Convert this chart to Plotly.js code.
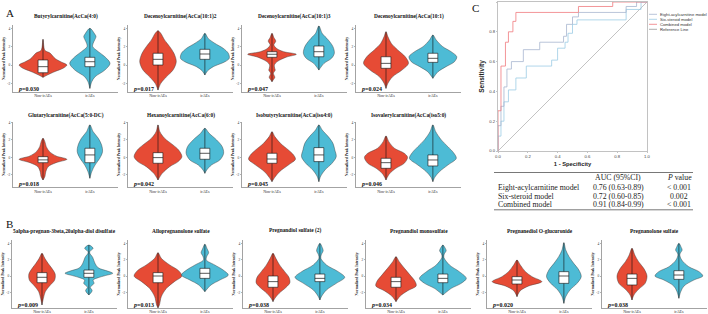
<!DOCTYPE html>
<html><head><meta charset="utf-8">
<script src="https://cdn.plot.ly/plotly-3.0.1.min.js"></script>
<style>html,body{margin:0;padding:0;background:#fff;}#chart{width:708px;height:314px;}</style>
</head><body><div id="chart"></div>
<script>
// ---------------- DATA ----------------
const panelTitles = [
  'Butyrylcarnitine(AcCa(4:0)', 'Decenoylcarnitine(AcCa(10:1)2', 'Decenoylcarnitine(AcCa(10:1)3', 'Decenoylcarnitine(AcCa(10:1)',
  'Glutarylcarnitine(AcCa(5:0-DC)', 'Hexanoylcarnitine(AcCa(6:0)', 'Isobutyrylcarnitine(AcCa(iso4:0)', 'Isovalerylcarnitine(AcCa(iso5:0)',
  '5alpha-pregnan-3beta,20alpha-diol disulfate', 'Allopregnanolone sulfate', 'Pregnandiol sulfate (2)',
  'Pregnandiol monosulfate', 'Pregnanediol O-glucuronide', 'Pregnanolone sulfate'
];
const pValues = ['0.030','0.017','0.047','0.024','0.018','0.042','0.045','0.046',
                 '0.009','0.013','0.038','0.034','0.020','0.038'];
const groupLabels = ['Non-irAEs', 'irAEs'];
const yTickVals = [-2, 0, 2, 4];
const yTickText = ['-2', '0', '2', '4'];

// violin outlines: [value, half-width] from top to bottom
const redProfiles = [
  [[2.8,0],[1.6,0.04],[1.3,0.15],[0.7,0.26],[0.35,0.38],[0,0.51],[-0.35,0.43],[-0.7,0.26],[-1.1,0.09],[-1.35,0]],
  [[3.74,0],[3.45,0.06],[2.73,0.14],[2.0,0.25],[1.28,0.34],[0.36,0.39],[-0.55,0.32],[-1.28,0.18],[-2.0,0.06],[-2.73,0]],
  [[3.45,0],[3.0,0.04],[2.6,0.08],[2.2,0.04],[1.8,0.1],[1.45,0.25],[1.17,0.52],[0.85,0.3],[0.4,0.12],[0.0,0.05],[-0.4,0.06],[-0.55,0.07],[-0.9,0.03],[-1.34,0.06],[-1.6,0.03],[-1.82,0]],
  [[3.63,0],[3.1,0.04],[2.37,0.11],[1.64,0.25],[0.9,0.41],[0.18,0.48],[-0.55,0.34],[-1.28,0.14],[-2.0,0.04],[-2.55,0]],
  [[2.19,0],[1.8,0.04],[1.22,0.07],[0.65,0.14],[0.15,0.28],[-0.23,0.51],[-0.62,0.28],[-1.08,0.11],[-1.66,0.06],[-2.24,0.04],[-2.62,0]],
  [[3.73,0],[2.95,0.04],[2.19,0.14],[1.42,0.32],[0.84,0.44],[0.07,0.51],[-0.5,0.43],[-1.08,0.25],[-1.85,0.09],[-2.62,0]],
  [[2.95,0],[2.38,0.06],[1.61,0.18],[0.84,0.35],[0.27,0.46],[-0.23,0.5],[-0.89,0.35],[-1.66,0.16],[-2.31,0.06],[-2.81,0]],
  [[2.46,0],[1.8,0.06],[1.04,0.18],[0.46,0.39],[0,0.46],[-0.69,0.39],[-1.27,0.21],[-1.93,0.07],[-2.62,0]],
  [[2.78,0],[2.17,0.06],[1.55,0.13],[0.94,0.21],[0.24,0.28],[-0.49,0.27],[-1.22,0.16],[-1.92,0.07],[-2.73,0.03],[-3.55,0]],
  [[2.86,0],[2.17,0.07],[1.35,0.25],[0.65,0.44],[0,0.51],[-0.69,0.35],[-1.51,0.18],[-2.53,0.07],[-3.55,0.03],[-3.9,0]],
  [[2.78,0],[2.17,0.06],[1.35,0.14],[0.53,0.25],[-0.16,0.34],[-0.82,0.36],[-1.38,0.28],[-2.12,0.13],[-2.73,0.04],[-3.14,0]],
  [[2.37,0],[1.75,0.07],[0.94,0.18],[0.12,0.3],[-0.69,0.41],[-1.22,0.43],[-1.8,0.25],[-2.45,0.09],[-3.14,0]],
  [[1.96,0],[1.35,0.07],[0.53,0.18],[-0.08,0.32],[-0.69,0.53],[-1.22,0.25],[-1.8,0.07],[-2.53,0]],
  [[3.39,0],[2.57,0.06],[1.75,0.14],[0.94,0.25],[0,0.32],[-0.9,0.28],[-1.63,0.14],[-2.33,0.04],[-2.94,0]]
];
const blueProfiles = [
  [[4.0,0],[3.4,0.1],[3.1,0.13],[2.7,0.1],[2.37,0.07],[2.0,0.06],[1.45,0.18],[0.9,0.32],[0.18,0.43],[-0.55,0.32],[-1.28,0.11],[-1.82,0.04],[-2.55,0]],
  [[3.45,0],[2.9,0.07],[2.37,0.21],[1.82,0.39],[1.28,0.5],[0.73,0.52],[0.36,0.43],[-0.18,0.18],[-0.62,0.06],[-1.09,0]],
  [[4.25,0],[3.45,0.07],[2.73,0.2],[2.0,0.3],[1.28,0.33],[0.73,0.27],[0.18,0.11],[-0.55,0]],
  [[3.27,0],[2.73,0.07],[2.0,0.21],[1.45,0.39],[0.9,0.51],[0.36,0.46],[-0.18,0.28],[-0.73,0.11],[-1.45,0]],
  [[3.73,0],[2.95,0.07],[2.19,0.18],[1.42,0.25],[0.65,0.27],[-0.12,0.21],[-0.89,0.11],[-1.66,0.04],[-2.42,0]],
  [[3.34,0],[2.77,0.09],[2.0,0.25],[1.22,0.37],[0.46,0.4],[-0.31,0.32],[-0.89,0.14],[-1.46,0.04],[-1.85,0]],
  [[3.73,0],[3.15,0.07],[2.38,0.2],[1.61,0.3],[0.84,0.34],[0.07,0.37],[-0.69,0.28],[-1.46,0.13],[-2.16,0.04],[-2.81,0]],
  [[3.73,0],[2.95,0.06],[2.0,0.18],[1.22,0.32],[0.53,0.44],[-0.12,0.5],[-0.89,0.32],[-1.66,0.14],[-2.31,0.04],[-2.81,0]],
  [[3.79,0],[3.39,0.09],[3.0,0.02],[2.78,0.02],[2.3,0.08],[1.55,0.13],[1.0,0.2],[0.6,0.4],[0.33,0.51],[0.05,0.35],[-0.2,0.2],[-0.49,0.09],[-0.9,0.11],[-1.38,0.03],[-1.8,0.07],[-2.33,0]],
  [[3.9,0],[3.3,0.05],[2.86,0.08],[2.4,0.04],[1.96,0.03],[1.35,0.21],[0.73,0.39],[0.12,0.5],[-0.49,0.32],[-1.1,0.13],[-1.92,0]],
  [[4.0,0],[3.5,0.05],[3.1,0.07],[2.6,0.03],[2.17,0.02],[1.35,0.14],[0.53,0.39],[-0.16,0.53],[-0.9,0.35],[-1.71,0.14],[-2.45,0.04],[-2.94,0]],
  [[3.79,0],[3.4,0.05],[3.1,0.07],[2.7,0.03],[2.29,0.02],[1.35,0.14],[0.53,0.35],[-0.29,0.5],[-0.9,0.39],[-1.51,0.18],[-2.33,0]],
  [[4.08,0],[3.18,0.04],[2.37,0.11],[1.55,0.21],[0.73,0.32],[-0.08,0.37],[-0.9,0.28],[-1.71,0.13],[-2.53,0.04],[-3.35,0]],
  [[4.0,0],[3.5,0.05],[3.18,0.07],[2.8,0.03],[2.57,0.02],[1.96,0.06],[1.14,0.21],[0.53,0.43],[0,0.51],[-0.49,0.32],[-1.22,0.11],[-1.92,0.04],[-2.73,0]]
];
// box statistics: [q1, median, q3]
const redBoxes = [[-0.84,-0.18,0.55],[0,0.62,1.28],[0.84,1.17,1.45],[-0.36,0.18,0.9],[-0.62,-0.3,0.07],[-0.69,-0.04,0.53],[-0.69,-0.2,0.46],
  [-1.27,-0.62,-0.12],[-0.82,-0.16,0.41],[-0.82,0,0.41],[-1.38,-0.69,0],[-1.38,-0.69,-0.16],[-0.98,-0.49,-0.08],[-1.1,-0.29,0.24]];
const blueBoxes = [[-0.18,0.36,0.84],[0.62,1.2,1.71],[0.9,1.45,2.07],[0.29,0.73,1.28],[-0.62,0.27,1.04],[-0.23,0.46,1.04],[-0.5,0.27,1.11],
  [-1.0,-0.31,0.27],[-0.16,0.33,0.73],[-0.29,0.33,0.94],[-0.69,-0.29,0.24],[-0.82,-0.29,0.24],[-0.9,0,0.53],[-0.41,0.12,0.65]];

// ROC curves (1 - specificity, sensitivity)
const rocNames = ['Eight-acylcarnitine model', 'Six-steroid model', 'Combined model', 'Reference Line'];
const fprEight = [0,0,0.02,0.02,0.04,0.04,0.06,0.06,0.09,0.09,0.17,0.17,0.28,0.28,0.44,0.44,0.46,0.46,0.5,0.5,0.54,0.54,0.86,0.86,0.93,0.93,1];
const tprEight = [0,0.17,0.17,0.3,0.3,0.43,0.43,0.55,0.55,0.6,0.6,0.68,0.68,0.73,0.73,0.77,0.77,0.85,0.85,0.9,0.9,0.93,0.93,0.97,0.97,1,1];
const fprSix = [0,0,0.02,0.02,0.04,0.04,0.07,0.07,0.12,0.12,0.19,0.19,0.36,0.36,0.4,0.4,0.45,0.45,0.47,0.47,0.5,0.5,0.53,0.53,0.86,0.86,0.96,0.96,1];
const tprSix = [0,0.1,0.1,0.2,0.2,0.33,0.33,0.41,0.41,0.49,0.49,0.57,0.57,0.61,0.61,0.69,0.69,0.73,0.73,0.79,0.79,0.85,0.85,0.88,0.88,0.95,0.95,1,1];
const fprComb = [0,0,0.02,0.02,0.05,0.05,0.07,0.07,0.1,0.1,0.12,0.12,0.54,0.54,0.77,0.77,1];
const tprComb = [0,0.27,0.27,0.57,0.57,0.73,0.73,0.8,0.8,0.87,0.87,0.93,0.93,0.97,0.97,1,1];
const fprRef = [0, 1];
const tprRef = [0, 1];

const tableHeader = ['AUC (95%CI)', '<i>P</i> value'];
const tableModels = ['Eight-acylcarnitine model', 'Six-steroid model', 'Combined model'];
const tableAUC = ['0.76 (0.63-0.89)', '0.72 (0.60-0.85)', '0.91 (0.84-0.99)'];
const tableP = ['< 0.001', '0.002', '< 0.001'];

// ---------------- LAYOUT ----------------
const W = 708, H = 314;
const RED = '#E64B35', BLUE = '#4DBBD5';
const SERIF = '"Liberation Serif","Times New Roman",serif';
const SANS = '"Liberation Sans",Arial,sans-serif';
const rowA1 = {top: 25, bottom: 92, range: [-2.94, 4.36], titleY: 17};
const rowA2 = {top: 121.7, bottom: 187.3, range: [-3.46, 4.1], titleY: 115};
const rowB  = {top: 240, bottom: 308, range: [-3.92, 4.41], titleY: 231};
const panels = [];
[13,128,242,356].forEach(x => panels.push({x, row: rowA1}));
[13,128,242,356].forEach(x => panels.push({x, row: rowA2}));
[12,128,243,366,487,602].forEach(x => panels.push({x, row: rowB}));
const PW = 105, XR = [-0.64, 1.6], BW = 0.105;
const px = v => v / W, py = v => 1 - v / H;

const traces = [];
const layout = {
  width: W, height: H, margin: {l: 0, r: 0, t: 0, b: 0},
  paper_bgcolor: '#fff', plot_bgcolor: 'rgba(0,0,0,0)', showlegend: false,
  font: {family: SERIF, color: '#222'}, annotations: [], shapes: []
};

function outline(profile, c) {
  const xs = [], ys = [];
  profile.forEach(([v, w]) => { xs.push(c + w); ys.push(v); });
  for (let i = profile.length - 1; i >= 0; i--) { xs.push(c - profile[i][1]); ys.push(profile[i][0]); }
  return {xs, ys};
}

panels.forEach((p, i) => {
  const k = i + 1, xa = 'x' + (k === 1 ? '' : k), ya = 'y' + (k === 1 ? '' : k);
  const xk = 'xaxis' + (k === 1 ? '' : k), yk = 'yaxis' + (k === 1 ? '' : k);
  layout[xk] = {
    domain: [px(p.x), px(p.x + PW)], anchor: ya, range: XR, type: 'linear',
    tickvals: [0, 1], ticktext: groupLabels, tickfont: {size: 4, family: SERIF, color: '#333'},
    ticks: '', showline: true, linecolor: '#666', linewidth: 0.6, showgrid: false, zeroline: false, fixedrange: true
  };
  layout[yk] = {
    domain: [py(p.row.bottom), py(p.row.top)], anchor: xa, range: p.row.range,
    tickvals: yTickVals, ticktext: yTickText, tickfont: {size: 3.5, family: SERIF, color: '#444'},
    ticks: 'outside', ticklen: 1.5, tickwidth: 0.5, tickcolor: '#666',
    showline: true, linecolor: '#666', linewidth: 0.6, showgrid: false, zeroline: false, fixedrange: true,
    title: {text: '<b>Normalized Peak Intensity</b>', font: {size: 3.8, family: SERIF, color: '#222'}, standoff: 1}
  };
  [[redProfiles[i], redBoxes[i], 0, RED], [blueProfiles[i], blueBoxes[i], 1, BLUE]].forEach(([prof, box, c, col]) => {
    const o = outline(prof, c);
    traces.push({type: 'scatter', mode: 'lines', x: o.xs, y: o.ys, fill: 'toself', fillcolor: col,
      line: {color: '#3a3a3a', width: 0.45, shape: 'spline', smoothing: 0.9}, xaxis: xa, yaxis: ya, hoverinfo: 'skip'});
    const vals = prof.map(d => d[0]);
    // whisker through the violin
    traces.push({type: 'scatter', mode: 'lines', x: [c, c], y: [Math.min(...vals), Math.max(...vals)],
      line: {color: '#111', width: 0.6}, xaxis: xa, yaxis: ya, hoverinfo: 'skip'});
    // inner box
    traces.push({type: 'scatter', mode: 'lines', x: [c - BW, c + BW, c + BW, c - BW, c - BW], y: [box[0], box[0], box[2], box[2], box[0]],
      fill: 'toself', fillcolor: '#ffffff', line: {color: '#111', width: 0.6}, xaxis: xa, yaxis: ya, hoverinfo: 'skip'});
    // median
    traces.push({type: 'scatter', mode: 'lines', x: [c - BW, c + BW], y: [box[1], box[1]],
      line: {color: '#111', width: 0.7}, xaxis: xa, yaxis: ya, hoverinfo: 'skip'});
  });
  layout.annotations.push({xref: 'paper', yref: 'paper', x: px(p.x + PW / 2), y: py(p.row.titleY),
    text: '<b>' + panelTitles[i] + '</b>', showarrow: false, xanchor: 'center', yanchor: 'middle',
    font: {size: 5.4, family: SERIF, color: '#111'}});
  layout.annotations.push({xref: 'paper', yref: 'paper', x: px(p.x + 2.5), y: py(p.row.bottom - 3.5),
    text: '<b><i>p</i>=' + pValues[i] + '</b>', showarrow: false, xanchor: 'left', yanchor: 'middle',
    font: {size: 6, family: SERIF, color: '#111'}});
});

// panel letters
[['A', 4, 13], ['B', 4, 224], ['C', 470, 8]].forEach(([t, x, y]) => layout.annotations.push({
  xref: 'paper', yref: 'paper', x: px(x), y: py(y), text: t, showarrow: false, xanchor: 'left', yanchor: 'middle',
  font: {size: 11, family: SERIF, color: '#111'}}));

// ROC panel
const R = 15, rocColors = ['#a7b5cf', '#9ccbe4', '#f07a7e', '#9a9a9a'];
layout['xaxis' + R] = {domain: [px(498), px(647)], anchor: 'y' + R, range: [0, 1],
  tickvals: [0, 0.2, 0.4, 0.6, 0.8, 1], ticktext: ['0.0', '0.2', '0.4', '0.6', '0.8', '1.0'],
  tickfont: {size: 4.2, family: SANS, color: '#444'}, ticks: 'outside', ticklen: 1.5, tickwidth: 0.5, tickcolor: '#888',
  showline: true, mirror: true, linecolor: '#999', linewidth: 0.6, showgrid: false, zeroline: false, fixedrange: true,
  title: {text: '<b>1 - Specificity</b>', font: {size: 5.8, family: SANS, color: '#222'}, standoff: 3}};
layout['yaxis' + R] = {domain: [py(151), py(2)], anchor: 'x' + R, range: [0, 1],
  tickvals: [0, 0.2, 0.4, 0.6, 0.8, 1], ticktext: ['0.0', '0.2', '0.4', '0.6', '0.8', '1.0'],
  tickfont: {size: 4.2, family: SANS, color: '#444'}, ticks: 'outside', ticklen: 1.5, tickwidth: 0.5, tickcolor: '#888',
  showline: true, mirror: true, linecolor: '#999', linewidth: 0.6, showgrid: false, zeroline: false, fixedrange: true,
  title: {text: '<b>Sensitivity</b>', font: {size: 6.5, family: SANS, color: '#222'}, standoff: 3}};
[[fprRef, tprRef, 3], [fprSix, tprSix, 1], [fprEight, tprEight, 0], [fprComb, tprComb, 2]].forEach(([fx, ty, j]) => {
  traces.push({type: 'scatter', mode: 'lines', x: fx, y: ty, name: rocNames[j], xaxis: 'x' + R, yaxis: 'y' + R,
    line: {color: rocColors[j], width: j === 3 ? 0.6 : 0.8}, hoverinfo: 'skip'});
});
// manual legend
rocNames.forEach((n, j) => {
  const yy = 14.3 + 5 * j;
  layout.shapes.push({type: 'line', xref: 'paper', yref: 'paper', x0: px(649), x1: px(657), y0: py(yy), y1: py(yy),
    line: {color: rocColors[j], width: 0.8}});
  layout.annotations.push({xref: 'paper', yref: 'paper', x: px(658), y: py(yy), text: n, showarrow: false,
    xanchor: 'left', yanchor: 'middle', font: {size: 4.2, family: SANS, color: '#333'}});
});

// table
layout.shapes.push({type: 'line', xref: 'paper', yref: 'paper', x0: px(494), x1: px(693), y0: py(172.5), y1: py(172.5), line: {color: '#555', width: 0.8}});
layout.shapes.push({type: 'line', xref: 'paper', yref: 'paper', x0: px(494), x1: px(693), y0: py(209.8), y1: py(209.8), line: {color: '#555', width: 0.8}});
const tfont = {size: 7.8, family: SERIF, color: '#222'};
layout.annotations.push({xref: 'paper', yref: 'paper', x: px(618), y: py(177.5), text: tableHeader[0], showarrow: false, xanchor: 'center', yanchor: 'middle', font: tfont});
layout.annotations.push({xref: 'paper', yref: 'paper', x: px(679), y: py(177.5), text: tableHeader[1], showarrow: false, xanchor: 'center', yanchor: 'middle', font: tfont});
tableModels.forEach((m, j) => {
  const yy = [187, 196, 204.5][j];
  layout.annotations.push({xref: 'paper', yref: 'paper', x: px(496), y: py(yy), text: m, showarrow: false, xanchor: 'left', yanchor: 'middle', font: tfont});
  layout.annotations.push({xref: 'paper', yref: 'paper', x: px(618), y: py(yy), text: tableAUC[j], showarrow: false, xanchor: 'center', yanchor: 'middle', font: tfont});
  layout.annotations.push({xref: 'paper', yref: 'paper', x: px(679), y: py(yy), text: tableP[j], showarrow: false, xanchor: 'center', yanchor: 'middle', font: tfont});
});

Plotly.newPlot('chart', traces, layout, {staticPlot: true, displayModeBar: false});
</script>
</body></html>
